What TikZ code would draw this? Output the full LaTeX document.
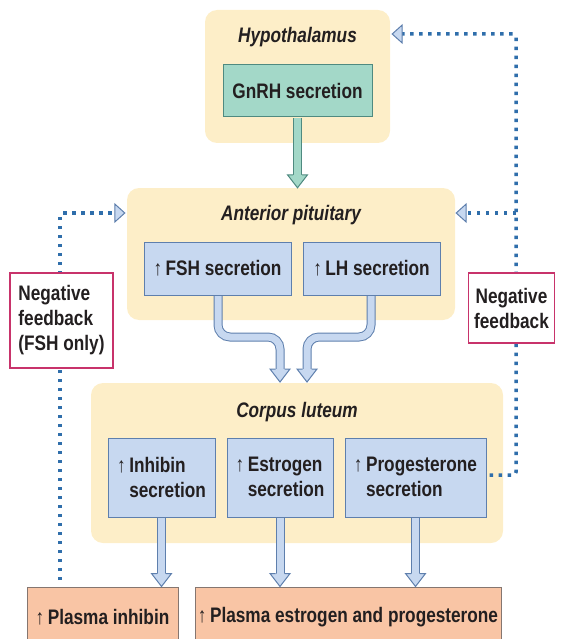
\documentclass[tikz,border=0pt]{standalone}
\usepackage{fontspec}
\setmainfont{Liberation Sans}[FakeStretch=0.82]
\definecolor{contc}{HTML}{FDEEC8}
\definecolor{bluef}{HTML}{C7D8F0}
\definecolor{bluebd}{HTML}{5E7FAD}
\definecolor{tealf}{HTML}{A3D8C8}
\definecolor{tealbd}{HTML}{4F8A80}
\definecolor{plasf}{HTML}{F9C5A5}
\definecolor{plasbd}{HTML}{857670}
\definecolor{fbbd}{HTML}{C8336B}
\definecolor{dotc}{HTML}{2F6EAB}
\definecolor{txtc}{HTML}{231F20}
\newcommand\upar{↑}
\newcommand\bhd[2]{%
  \fill[#1f] (#2) -- ++(-10,-13) -- ++(20,0) -- cycle;
  \draw[#1bd, line width=1pt, line join=miter] ([shift={(-4.5,-13)}]#2) -- ++(-5.5,0) -- (#2) -- ++(10,-13) -- ++(-5.5,0);}
\newcommand\hhd[2]{% horizontal hollow head, #1 = +1 points right, -1 points left
  \draw[fill=bluef, draw=bluebd, line width=1pt, line join=miter] (#2) -- ++(-#1*10,-9) -- ++(0,18) -- cycle;}
\begin{document}
\begin{tikzpicture}[x=1pt,y=-1pt,
  every node/.style={text=txtc, font=\fontsize{21}{25}\selectfont\bfseries},
  cont/.style={fill=contc, rounded corners=12pt, inner sep=0pt},
  title/.style={font=\fontsize{21}{25}\selectfont\bfseries\itshape, anchor=base},
  bbox/.style={draw=bluebd, fill=bluef, line width=1pt, inner sep=0pt, align=left},
  gbox/.style={draw=tealbd, fill=tealf, line width=1pt, inner sep=0pt},
  pbox/.style={draw=plasbd, fill=plasf, line width=1pt, inner sep=0pt},
  fbbox/.style={draw=fbbd, fill=white, line width=1.6pt, inner sep=0pt},
  blueshaft/.style={draw=bluebd, double=bluef, double distance=7pt, line width=1pt, rounded corners=12pt},
  tealshaft/.style={draw=tealbd, double=tealf, double distance=7pt, line width=1pt},
  fbline/.style={draw=dotc, line width=3.5pt, dash pattern=on 3.5pt off 5.5pt, rounded corners=3pt}]
\useasboundingbox (0,0) rectangle (561,639);
% containers
\node[cont, minimum width=185pt, minimum height=133pt] (hyp) at (297.5,76.5) {};
\node[cont, minimum width=328pt, minimum height=132pt] (ant) at (291,254) {};
\node[cont, minimum width=412pt, minimum height=160pt] (cor) at (297,463) {};
\node[title] (hypt) at (297.5,43) {Hypothalamus};
\node[title] (antt) at (291,220) {Anterior pituitary};
\node[title] (cort) at (297,417) {Corpus luteum};
% boxes
\node[gbox, minimum width=149pt, minimum height=52pt] (gnrh) at (297.5,91) {GnRH secretion};
\node[bbox, minimum width=147pt, minimum height=53pt] (fsh) at (217.5,268.5) {\upar\,FSH secretion};
\node[bbox, minimum width=137pt, minimum height=53pt] (lh) at (371.5,268.5) {\upar\,LH secretion};
\node[bbox, minimum width=107pt, minimum height=79pt] (inh) at (161.5,477.5) {\upar\,Inhibin\\\phantom{\upar\,}secretion};
\node[bbox, minimum width=106pt, minimum height=79pt] (est) at (280,477.5) {\upar\,Estrogen\\\phantom{\upar\,}secretion};
\node[bbox, minimum width=141pt, minimum height=79pt] (pro) at (415.5,477.5) {\upar\,Progesterone\\\phantom{\upar\,}secretion};
\node[pbox, minimum width=151pt, minimum height=60pt] (pinh) at (102.5,617) {\upar\,Plasma inhibin};
\node[pbox, minimum width=306pt, minimum height=60pt] (pep) at (348,617) {\upar\,Plasma estrogen and progesterone};
% block arrows
\coordinate (t1) at (gnrh.south |- ant.north);
\draw[tealshaft] ([yshift=-0.5pt]gnrh.south) -- ([yshift=13pt]t1);
\bhd{teal}{t1}
\coordinate (t2) at (280,382);
\draw[blueshaft] ([yshift=-0.5pt]fsh.south -| 218,0) -- (218,337) -- (280,337) -- ([yshift=13pt]t2);
\bhd{blue}{t2}
\coordinate (t3) at (307,382);
\draw[blueshaft] ([yshift=-0.5pt]lh.south -| 371,0) -- (371,337) -- (307,337) -- ([yshift=13pt]t3);
\bhd{blue}{t3}
\coordinate (t4) at (inh.south |- pinh.north);
\draw[tealshaft, draw=bluebd, double=bluef] ([yshift=-0.5pt]inh.south) -- ([yshift=13pt]t4);
\bhd{blue}{t4}
\coordinate (t5) at (est.south |- pep.north);
\draw[tealshaft, draw=bluebd, double=bluef] ([yshift=-0.5pt]est.south) -- ([yshift=13pt]t5);
\bhd{blue}{t5}
\coordinate (t6) at (pro.south |- pep.north);
\draw[tealshaft, draw=bluebd, double=bluef] ([yshift=-0.5pt]pro.south) -- ([yshift=13pt]t6);
\bhd{blue}{t6}
% feedback dotted lines
\coordinate (lc) at (60,213);
\coordinate (lh1) at ([xshift=-2pt]ant.west |- lc);
\draw[fbline] (60,580) -- (lc) -- ([xshift=-10pt]lh1);
\hhd{1}{lh1}
\coordinate (rc1) at (516,34);
\coordinate (rc2) at (516,213);
\coordinate (rc3) at (516,475);
\coordinate (rh1) at ([xshift=2pt]hyp.east |- rc1);
\coordinate (rh2) at ([xshift=1pt]ant.east |- rc2);
\draw[fbline] ([xshift=3pt]pro.east |- rc3) -- (rc3) -- (rc1) -- ([xshift=10pt]rh1);
\draw[fbline] (rc2) -- ([xshift=10pt]rh2);
\hhd{-1}{rh1}
\hhd{-1}{rh2}
% feedback labels
\node[fbbox, minimum width=103pt, minimum height=95pt, align=left] (fbl) at (61.5,320.5) {Negative\\feedback\\(FSH only)};
\node[fbbox, minimum width=86pt, minimum height=70pt, align=center] (fbr) at (511.5,308) {Negative\\feedback};
\end{tikzpicture}
\end{document}
